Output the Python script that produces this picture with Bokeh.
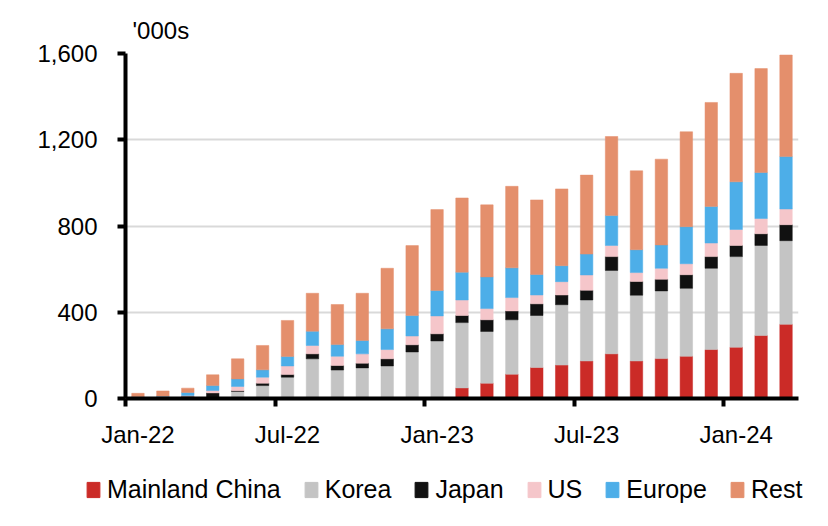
from bokeh.plotting import figure
from bokeh.layouts import column
from bokeh.models import (Range1d, FixedTicker, NumeralTickFormatter, LinearAxis,
                          Legend, LegendItem, ColumnDataSource)
from bokeh.embed import file_html
from bokeh.resources import INLINE

months = ["Jan-22", "Feb-22", "Mar-22", "Apr-22", "May-22", "Jun-22", "Jul-22", "Aug-22", "Sep-22",
          "Oct-22", "Nov-22", "Dec-22", "Jan-23", "Feb-23", "Mar-23", "Apr-23", "May-23", "Jun-23",
          "Jul-23", "Aug-23", "Sep-23", "Oct-23", "Nov-23", "Dec-23", "Jan-24", "Feb-24", "Mar-24"]

mainland_china = [0, 0, 0, 0, 0, 0, 0, 0, 0, 0, 3, 3, 3, 49, 71, 113, 144, 155, 174, 207, 174, 185, 196, 227, 238, 292, 344]
korea = [4, 4, 8, 5, 33, 60, 99, 184, 132, 142, 148, 213, 264, 303, 240, 252, 241, 280, 283, 387, 305, 314, 315, 377, 420, 418, 388]
japan = [0, 1, 2, 21, 3, 11, 12, 23, 21, 22, 33, 33, 33, 33, 54, 41, 54, 45, 45, 64, 64, 54, 63, 54, 52, 54, 74]
us = [1, 2, 4, 11, 20, 28, 40, 39, 43, 43, 43, 41, 83, 72, 52, 62, 41, 62, 71, 52, 41, 51, 51, 63, 74, 71, 73]
europe = [3, 4, 14, 23, 35, 34, 44, 66, 54, 62, 96, 95, 118, 129, 147, 138, 95, 74, 97, 139, 106, 108, 172, 170, 221, 213, 243]
rest = [16, 24, 20, 50, 93, 113, 167, 176, 186, 219, 281, 324, 375, 344, 334, 378, 346, 356, 366, 366, 366, 398, 440, 482, 503, 482, 471]

series_names = ["Mainland China", "Korea", "Japan", "US", "Europe", "Rest"]
series_keys = ["mc", "korea", "japan", "us", "europe", "rest"]
colors = ["#CB2B27", "#C4C4C4", "#111111", "#F5C6CA", "#4DAEE8", "#E48F6C"]

y_ticks = [0, 400, 800, 1200, 1600]
label_every = 6
unit_text = "'000s"

FONT = "Liberation Sans"

x = list(range(len(months)))
source = ColumnDataSource(dict(x=x, mc=mainland_china, korea=korea, japan=japan,
                               us=us, europe=europe, rest=rest))

p = figure(frame_width=673, frame_height=345, output_backend="svg", toolbar_location=None,
           x_range=Range1d(-0.5, len(months) - 0.5), y_range=Range1d(0, 1600),
           x_axis_type=None, min_border_left=125, min_border_right=14,
           min_border_top=53, min_border_bottom=52)
p.outline_line_color = None
p.background_fill_color = "white"

p.title.text = unit_text
p.title.align = "left"
p.title.offset = 7
p.title.standoff = 19
p.title.text_font = FONT
p.title.text_font_size = "24px"
p.title.text_font_style = "normal"
p.title.text_color = "black"

p.vbar_stack(series_keys, x="x", width=0.5, color=colors, source=source, line_width=0.5)

# y axis
ya = p.yaxis[0]
ya.ticker = FixedTicker(ticks=y_ticks)
ya.formatter = NumeralTickFormatter(format="0,0")
ya.major_tick_in = 0
ya.major_tick_out = 8
ya.major_tick_line_width = 4
ya.axis_line_width = 4
ya.minor_tick_line_color = None
ya.major_label_text_font = FONT
ya.major_label_text_font_size = "24px"
ya.major_label_text_color = "black"
ya.major_label_standoff = 20

p.ygrid.ticker = FixedTicker(ticks=y_ticks[1:])
p.ygrid.grid_line_color = "#D9D9D9"
p.ygrid.grid_line_width = 2

# x axis: boundary ticks
boundaries = [i - 0.5 for i in range(0, len(months), label_every)]
tick_axis = LinearAxis(ticker=FixedTicker(ticks=boundaries),
                       major_label_overrides={b: "" for b in boundaries},
                       major_label_text_font_size="0px", major_label_standoff=0,
                       major_tick_in=0, major_tick_out=8, major_tick_line_width=4,
                       axis_line_width=4, minor_tick_line_color=None)
p.add_layout(tick_axis, "below")

centers = list(range(0, len(months), label_every))
label_axis = LinearAxis(ticker=FixedTicker(ticks=centers),
                        major_label_overrides={c: months[c] for c in centers},
                        axis_line_color=None, major_tick_line_color=None,
                        major_tick_in=0, major_tick_out=0, minor_tick_line_color=None,
                        major_label_standoff=14, major_label_text_font=FONT,
                        major_label_text_font_size="24px", major_label_text_color="black")
p.add_layout(label_axis, "below")

# legend strip (its renderers share the data but sit outside this strip's view)
lf = figure(frame_width=812, frame_height=60, output_backend="svg", toolbar_location=None,
            x_axis_type=None, y_axis_type=None, min_border=0,
            x_range=Range1d(-100, -99), y_range=Range1d(0, 1))
lf.outline_line_color = None
lf.xgrid.visible = False
lf.ygrid.visible = False
items = []
for name, key, c in zip(series_names, series_keys, colors):
    r = lf.vbar(x="x", top=key, width=0.5, color=c, source=source)
    items.append(LegendItem(label=name, renderers=[r]))
legend = Legend(items=items, orientation="horizontal", location=(85, 6),
                padding=0, margin=0, spacing=22, glyph_width=16, glyph_height=19,
                label_standoff=6, label_text_font=FONT, label_text_font_size="25px",
                label_text_color="black", border_line_color=None,
                background_fill_alpha=0)
lf.add_layout(legend, "center")

layout = column(p, lf, spacing=0)
open("out.html", "w").write(file_html(layout, INLINE))
